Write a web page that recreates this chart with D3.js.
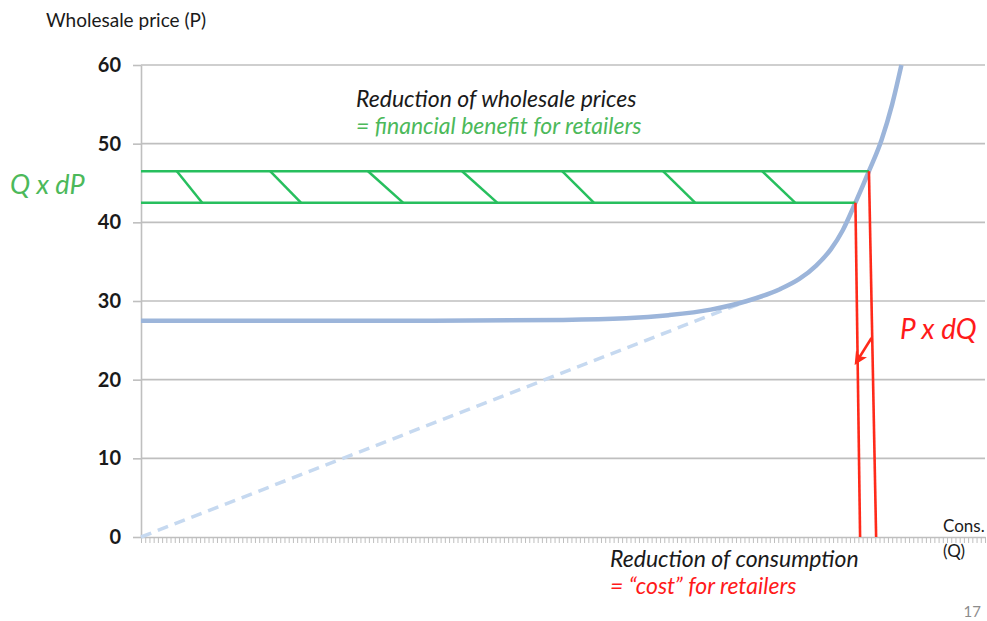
<!DOCTYPE html>
<html>
<head>
<meta charset="utf-8">
<script src="https://cdn.jsdelivr.net/npm/d3@7"></script>
<style>
  html, body { margin: 0; padding: 0; background: #fff; }
  svg { display: block; font-family: Lato, "Open Sans", sans-serif; }
</style>
</head>
<body>
<svg id="chart" width="987" height="621"></svg>
<script>
// price axis
const yTicks = [0, 10, 20, 30, 40, 50, 60];

// supply curve (merit order)
const curveQ = [0, 60, 100, 115, 125, 135, 143.6, 151.4, 156, 160, 163.5, 166.3, 169.3, 172.5, 175.5, 178, 180.2];
const curveP = [27.5, 27.5, 27.6, 27.8, 28.2, 28.9, 30.0, 31.5, 32.8, 34.5, 36.6, 39.0, 42.5, 46.5, 50.5, 55, 60];

// dashed line from origin to the bend
const dashQ = [0, 143.6];
const dashP = [0, 30];

// Q x dP band
const bandP = [46.5, 42.5];
const bandEndQ = [172.5, 169.3];
const hatchTopQ = [8.5, 30.6, 53.8, 76.1, 99.8, 123.7, 147.2];
const hatchBottomQ = [14.5, 37.9, 62.1, 84.4, 107.3, 131.3, 155];

// P x dQ lines
const dropTopQ = [172.5, 169.3];
const dropBottomQ = [174.2, 170.4];
const arrowQ = [173.1, 169.6];
const arrowP = [25.3, 22.3];

const xMax = 200;

const svg = d3.select('#chart');
const x = d3.scaleLinear().domain([0, xMax]).range([141, 985]);
const y = d3.scaleLinear().domain([0, 60]).range([537, 65]);

const grey = '#bfbfbf';
const green = '#27bf5e';
const red = '#ff2a1a';

// gridlines
svg.append('g')
  .selectAll('line')
  .data(yTicks.filter((d) => d > 0))
  .join('line')
  .attr('x1', x(0)).attr('x2', x(xMax))
  .attr('y1', (d) => y(d)).attr('y2', (d) => y(d))
  .attr('stroke', grey).attr('stroke-width', 1.6);

// y axis
const yAxis = svg.append('g')
  .attr('transform', `translate(${x(0)},0)`)
  .call(d3.axisLeft(y).tickValues(yTicks).tickSize(8).tickPadding(12).tickSizeOuter(0));
yAxis.select('.domain').attr('stroke', grey).attr('stroke-width', 1.6);
yAxis.selectAll('.tick line').attr('stroke', grey).attr('stroke-width', 1.6);
yAxis.selectAll('.tick text')
  .attr('font-family', 'Lato, sans-serif')
  .attr('font-size', 20).attr('font-weight', 'bold').attr('fill', '#1a1a1a');

// x axis with minor ticks
const xAxis = svg.append('g')
  .attr('transform', `translate(0,${y(0)})`)
  .call(d3.axisBottom(x).tickValues(d3.range(0, xMax + 1)).tickSize(6).tickFormat('').tickSizeOuter(0));
xAxis.select('.domain').attr('stroke', grey).attr('stroke-width', 1.6);
xAxis.selectAll('.tick line').attr('stroke', grey).attr('stroke-width', 1);

// dashed diagonal
svg.append('path')
  .datum(dashQ.map((q, i) => [q, dashP[i]]))
  .attr('d', d3.line().x((d) => x(d[0])).y((d) => y(d[1])))
  .attr('fill', 'none').attr('stroke', '#c6d9f0')
  .attr('stroke-width', 3.5).attr('stroke-dasharray', '11,7');

// supply curve
svg.append('path')
  .datum(curveQ.map((q, i) => [q, curveP[i]]))
  .attr('d', d3.line().curve(d3.curveMonotoneX).x((d) => x(d[0])).y((d) => y(d[1])))
  .attr('fill', 'none').attr('stroke', '#9cb5da').attr('stroke-width', 4.5);

// green band
svg.append('g')
  .selectAll('line')
  .data(bandP)
  .join('line')
  .attr('x1', x(0)).attr('x2', (d, i) => x(bandEndQ[i]))
  .attr('y1', (d) => y(d)).attr('y2', (d) => y(d))
  .attr('stroke', green).attr('stroke-width', 2.5);

svg.append('g')
  .selectAll('line')
  .data(hatchTopQ)
  .join('line')
  .attr('x1', (d) => x(d)).attr('y1', y(bandP[0]))
  .attr('x2', (d, i) => x(hatchBottomQ[i])).attr('y2', y(bandP[1]))
  .attr('stroke', green).attr('stroke-width', 2.5);

// red drop lines
svg.append('g')
  .selectAll('line')
  .data(dropTopQ)
  .join('line')
  .attr('x1', (d) => x(d)).attr('y1', (d, i) => y(bandP[i]))
  .attr('x2', (d, i) => x(dropBottomQ[i])).attr('y2', y(0))
  .attr('stroke', red).attr('stroke-width', 2.6);

svg.append('defs').append('marker')
  .attr('id', 'arrow')
  .attr('viewBox', '0 0 10 10')
  .attr('refX', 7).attr('refY', 5)
  .attr('markerWidth', 5).attr('markerHeight', 5)
  .attr('orient', 'auto')
  .append('path').attr('d', 'M0,0L10,5L0,10L2.5,5z').attr('fill', red);

svg.append('line')
  .attr('x1', x(arrowQ[0])).attr('y1', y(arrowP[0]))
  .attr('x2', x(arrowQ[1])).attr('y2', y(arrowP[1]))
  .attr('stroke', red).attr('stroke-width', 2.6)
  .attr('marker-end', 'url(#arrow)');

// texts
const label = (tx, ty, str, opts = {}) => svg.append('text')
  .attr('x', tx).attr('y', ty)
  .attr('font-size', opts.size || 16)
  .attr('font-style', opts.italic ? 'italic' : 'normal')
  .attr('fill', opts.color || '#1a1a1a')
  .attr('text-anchor', opts.anchor || 'start')
  .text(str);

label(46, 27, 'Wholesale price (P)', { size: 19 });
label(10, 194, 'Q x dP', { size: 27, italic: true, color: '#4cb95a' });
label(356, 107, 'Reduction of wholesale prices', { size: 23, italic: true });
label(356, 134, '= financial benefit for retailers', { size: 23, italic: true, color: '#4cb95a' });
label(900, 339, 'P x dQ', { size: 28, italic: true, color: '#ff1a1a' });
label(610, 567, 'Reduction of consumption', { size: 23, italic: true });
label(610, 594, '= \u201ccost\u201d for retailers', { size: 23, italic: true, color: '#ff1a1a' });
label(943, 532, 'Cons.', { size: 17 });
label(943, 557, '(Q)', { size: 17 });
label(981, 617, '17', { size: 15, color: '#8c8c8c', anchor: 'end' });
</script>
</body>
</html>
